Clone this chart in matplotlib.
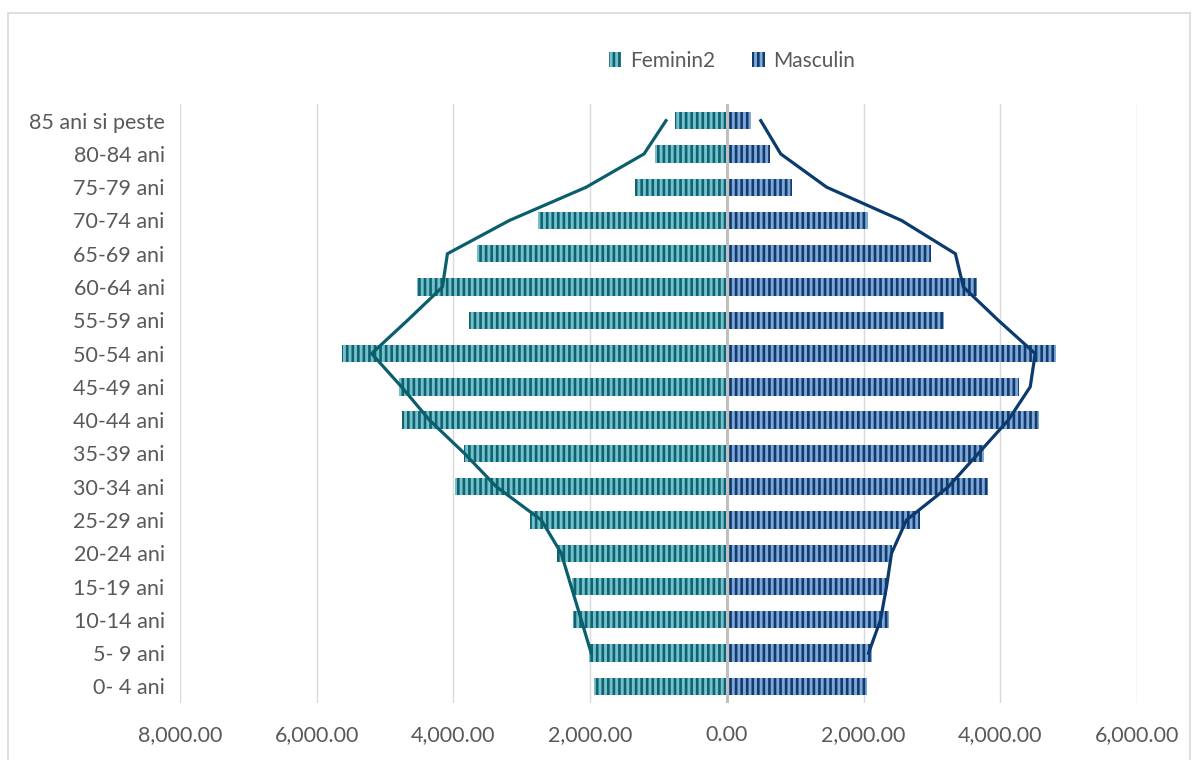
import numpy as np
import matplotlib
matplotlib.use("Agg")
import matplotlib.pyplot as plt
from matplotlib.patches import Patch, Rectangle
from matplotlib.ticker import FuncFormatter, MultipleLocator

plt.rcParams['font.family'] = ['Lato', 'DejaVu Sans']
plt.rcParams['hatch.linewidth'] = 1.9

# age groups, youngest at the bottom
ageGroups = ["0- 4 ani", "5- 9 ani", "10-14 ani", "15-19 ani", "20-24 ani", "25-29 ani",
             "30-34 ani", "35-39 ani", "40-44 ani", "45-49 ani", "50-54 ani", "55-59 ani",
             "60-64 ani", "65-69 ani", "70-74 ani", "75-79 ani", "80-84 ani", "85 ani si peste"]

femininBars = [1942, 2015, 2248, 2263, 2482, 2876, 3971, 3839, 4759, 4803,
               5635, 3766, 4526, 3650, 2759, 1343, 1051, 759]
masculinBars = [2044, 2117, 2365, 2350, 2423, 2832, 3825, 3766, 4569, 4277,
                4818, 3182, 3664, 2993, 2058, 949, 628, 350]

# comparison series drawn as lines (no value for the first group)
femininLine = [np.nan, 1985, 2130, 2277, 2423, 2715, 3372, 3839, 4350, 4759,
               5197, 4671, 4161, 4088, 3182, 2058, 1212, 890]
masculinLine = [np.nan, 2073, 2248, 2336, 2409, 2628, 3241, 3679, 4117, 4438,
                4511, 3971, 3460, 3343, 2555, 1460, 788, 496]

textColor = '#595959'
femBase, femStripe, femLineColor = '#74C1CC', '#0F6270', '#0B5E6C'
mascBase, mascStripe, mascLineColor = '#7EA7DA', '#123B6B', '#0A3A6E'
stripes = '|||'

fig = plt.figure(figsize=(11.98, 7.6), dpi=100)
ax = fig.add_axes([180 / 1198, 1 - 703 / 760, 957 / 1198, 599 / 760])

y = np.arange(len(ageGroups))
barH = 0.52

ax.barh(y, -np.array(femininBars), height=barH, color=femBase, edgecolor=femStripe,
        linewidth=0, hatch=stripes, zorder=2)
ax.barh(y, masculinBars, height=barH, color=mascBase, edgecolor=mascStripe,
        linewidth=0, hatch=stripes, zorder=2)

ax.plot(-np.array(femininLine), y, color=femLineColor, linewidth=2.3, zorder=4,
        solid_joinstyle='miter')
ax.plot(masculinLine, y, color=mascLineColor, linewidth=2.3, zorder=4,
        solid_joinstyle='miter')

ax.axvline(0, color='#BFBFBF', linewidth=2.2, zorder=3)

ax.set_xlim(-8000, 6000)
ax.set_ylim(-0.5, len(ageGroups) - 0.5)
ax.xaxis.set_major_locator(MultipleLocator(2000))
ax.xaxis.set_major_formatter(FuncFormatter(lambda v, p: f"{abs(v):,.2f}"))
ax.set_yticks(y)
ax.set_yticklabels(ageGroups)
ax.grid(axis='x', color='#D9D9D9', linewidth=1, zorder=0)
ax.set_axisbelow(True)
for s in ax.spines.values():
    s.set_visible(False)
ax.tick_params(axis='both', length=0, labelsize=15.5, labelcolor=textColor)
ax.tick_params(axis='x', pad=16)
ax.tick_params(axis='y', pad=11)

handles = [Patch(facecolor=femBase, edgecolor=femStripe, linewidth=0, hatch=stripes),
           Patch(facecolor=mascBase, edgecolor=mascStripe, linewidth=0, hatch=stripes)]
fig.legend(handles, ['Feminin2', 'Masculin'], loc='center', bbox_to_anchor=(732 / 1198, 1 - 61 / 760),
           ncol=2, frameon=False, fontsize=15, labelcolor=textColor, handlelength=0.6,
           handleheight=0.75, handletextpad=0.4, columnspacing=1.8)

fig.patches.append(Rectangle((8 / 1198, -0.05), 1182 / 1198, 1.05 - 13 / 760,
                             transform=fig.transFigure, fill=False,
                             edgecolor='#D9D9D9', linewidth=1.2))

fig.savefig('out.png', dpi=100)
